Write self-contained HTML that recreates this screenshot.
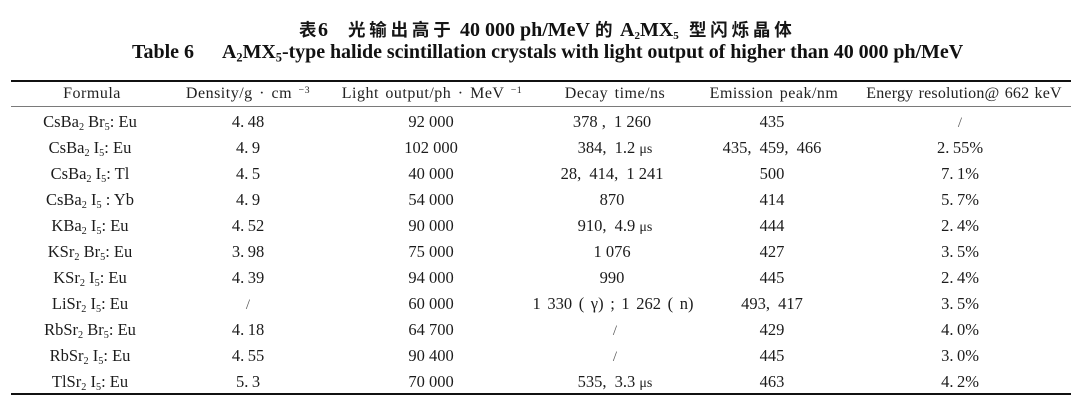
<!DOCTYPE html>
<html><head><meta charset="utf-8">
<style>
html,body{margin:0;padding:0;}
body{width:1080px;height:406px;background:#fff;position:relative;overflow:hidden;font-family:"Liberation Serif","Noto Serif CJK SC",serif;color:#1c1c1c;}
.a{position:absolute;white-space:nowrap;}
.t{position:absolute;white-space:nowrap;line-height:30px;height:30px;top:14.5px;}
.cjk{font-family:"Noto Sans CJK SC","WenQuanYi Zen Hei",sans-serif;font-size:17.5px;font-weight:bold;letter-spacing:3.8px;color:#151515;}
.lb{font-family:"Liberation Serif",serif;font-weight:bold;font-size:20px;color:#111;}
.et{position:absolute;white-space:nowrap;line-height:30px;height:30px;top:37px;font-family:"Liberation Serif",serif;font-weight:bold;font-size:20px;color:#111;}
sub{font-size:0.62em;vertical-align:-0.28em;line-height:0;}
.lb sub{font-size:0.55em;}
sup{font-size:0.62em;vertical-align:0.5em;line-height:0;}
.c{position:absolute;width:260px;margin-left:-130px;text-align:center;white-space:nowrap;font-size:16.5px;line-height:26px;height:26px;}
.h{position:absolute;width:300px;margin-left:-150px;text-align:center;white-space:nowrap;font-size:16px;line-height:26px;height:26px;top:81px;letter-spacing:0.5px;word-spacing:2px;color:#222;}
.p{margin-right:3.5px;}
.k{margin-right:4px;}
.sl{color:#555;font-size:15px;}
.mu{font-size:14px;}
.rule{position:absolute;left:11px;width:1060px;}
</style></head>
<body>
<!-- Chinese title -->
<span class="t cjk" style="left:299px;letter-spacing:0">表</span>
<span class="t lb" style="left:318px">6</span>
<span class="t cjk" style="left:348px">光输出高于</span>
<span class="t lb" style="left:460px">40 000 ph/MeV</span>
<span class="t cjk" style="left:595px;letter-spacing:0">的</span>
<span class="t lb" style="left:620px">A<sub>2</sub>MX<sub>5</sub></span>
<span class="t cjk" style="left:689px">型闪烁晶体</span>

<!-- English title -->
<span class="et" style="left:132px">Table 6</span>
<span class="et" style="left:222px;letter-spacing:-0.05px">A<sub>2</sub>MX<sub>5</sub>-type halide scintillation crystals with light output of higher than 40 000 ph/MeV</span>

<!-- rules -->
<div class="rule" style="top:80px;height:2px;background:#111;"></div>
<div class="rule" style="top:106px;height:1px;background:#7a7a7a;"></div>
<div class="rule" style="top:393px;height:2px;background:#111;"></div>

<!-- header -->
<div class="h" style="left:92px">Formula</div>
<div class="h" style="left:248px">Density/g · cm <sup>−3</sup></div>
<div class="h" style="left:432px">Light output/ph · MeV <sup>−1</sup></div>
<div class="h" style="left:615px">Decay time/ns</div>
<div class="h" style="left:774px">Emission peak/nm</div>
<div class="h" style="left:964px;letter-spacing:0.2px;word-spacing:1px">Energy resolution@ 662 keV</div>

<!-- row 1 -->
<div class="c" style="top:108.5px;left:90px">CsBa<sub>2</sub> Br<sub>5</sub>: Eu</div>
<div class="c" style="top:108.5px;left:248px">4<span class="p">.</span>48</div>
<div class="c" style="top:108.5px;left:431px">92 000</div>
<div class="c" style="top:108.5px;left:612px">378 <span class="k">,</span> 1 260</div>
<div class="c" style="top:108.5px;left:772px">435</div>
<div class="c" style="top:108.5px;left:960px"><span class="sl">/</span></div>
<!-- row 2 -->
<div class="c" style="top:134.5px;left:90px">CsBa<sub>2</sub> I<sub>5</sub>: Eu</div>
<div class="c" style="top:134.5px;left:248px">4<span class="p">.</span>9</div>
<div class="c" style="top:134.5px;left:431px">102 000</div>
<div class="c" style="top:134.5px;left:615px">384<span class="k">,</span> 1.2 <span class="mu">μs</span></div>
<div class="c" style="top:134.5px;left:772px">435<span class="k">,</span> 459<span class="k">,</span> 466</div>
<div class="c" style="top:134.5px;left:960px">2<span class="p">.</span>55%</div>
<!-- row 3 -->
<div class="c" style="top:160.5px;left:90px">CsBa<sub>2</sub> I<sub>5</sub>: Tl</div>
<div class="c" style="top:160.5px;left:248px">4<span class="p">.</span>5</div>
<div class="c" style="top:160.5px;left:431px">40 000</div>
<div class="c" style="top:160.5px;left:612px">28<span class="k">,</span> 414<span class="k">,</span> 1 241</div>
<div class="c" style="top:160.5px;left:772px">500</div>
<div class="c" style="top:160.5px;left:960px">7<span class="p">.</span>1%</div>
<!-- row 4 -->
<div class="c" style="top:186.5px;left:90px">CsBa<sub>2</sub> I<sub>5</sub> : Yb</div>
<div class="c" style="top:186.5px;left:248px">4<span class="p">.</span>9</div>
<div class="c" style="top:186.5px;left:431px">54 000</div>
<div class="c" style="top:186.5px;left:612px">870</div>
<div class="c" style="top:186.5px;left:772px">414</div>
<div class="c" style="top:186.5px;left:960px">5<span class="p">.</span>7%</div>
<!-- row 5 -->
<div class="c" style="top:212.5px;left:90px">KBa<sub>2</sub> I<sub>5</sub>: Eu</div>
<div class="c" style="top:212.5px;left:248px">4<span class="p">.</span>52</div>
<div class="c" style="top:212.5px;left:431px">90 000</div>
<div class="c" style="top:212.5px;left:615px">910<span class="k">,</span> 4.9 <span class="mu">μs</span></div>
<div class="c" style="top:212.5px;left:772px">444</div>
<div class="c" style="top:212.5px;left:960px">2<span class="p">.</span>4%</div>
<!-- row 6 -->
<div class="c" style="top:238.5px;left:90px">KSr<sub>2</sub> Br<sub>5</sub>: Eu</div>
<div class="c" style="top:238.5px;left:248px">3<span class="p">.</span>98</div>
<div class="c" style="top:238.5px;left:431px">75 000</div>
<div class="c" style="top:238.5px;left:612px">1 076</div>
<div class="c" style="top:238.5px;left:772px">427</div>
<div class="c" style="top:238.5px;left:960px">3<span class="p">.</span>5%</div>
<!-- row 7 -->
<div class="c" style="top:264.5px;left:90px">KSr<sub>2</sub> I<sub>5</sub>: Eu</div>
<div class="c" style="top:264.5px;left:248px">4<span class="p">.</span>39</div>
<div class="c" style="top:264.5px;left:431px">94 000</div>
<div class="c" style="top:264.5px;left:612px">990</div>
<div class="c" style="top:264.5px;left:772px">445</div>
<div class="c" style="top:264.5px;left:960px">2<span class="p">.</span>4%</div>
<!-- row 8 -->
<div class="c" style="top:290.5px;left:90px">LiSr<sub>2</sub> I<sub>5</sub>: Eu</div>
<div class="c" style="top:290.5px;left:248px"><span class="sl">/</span></div>
<div class="c" style="top:290.5px;left:431px">60 000</div>
<div class="c" style="top:290.5px;left:613px;word-spacing:2.5px">1 330 ( γ) ; 1 262 ( n)</div>
<div class="c" style="top:290.5px;left:772px">493<span class="k">,</span> 417</div>
<div class="c" style="top:290.5px;left:960px">3<span class="p">.</span>5%</div>
<!-- row 9 -->
<div class="c" style="top:316.5px;left:90px">RbSr<sub>2</sub> Br<sub>5</sub>: Eu</div>
<div class="c" style="top:316.5px;left:248px">4<span class="p">.</span>18</div>
<div class="c" style="top:316.5px;left:431px">64 700</div>
<div class="c" style="top:316.5px;left:615px"><span class="sl">/</span></div>
<div class="c" style="top:316.5px;left:772px">429</div>
<div class="c" style="top:316.5px;left:960px">4<span class="p">.</span>0%</div>
<!-- row 10 -->
<div class="c" style="top:342.5px;left:90px">RbSr<sub>2</sub> I<sub>5</sub>: Eu</div>
<div class="c" style="top:342.5px;left:248px">4<span class="p">.</span>55</div>
<div class="c" style="top:342.5px;left:431px">90 400</div>
<div class="c" style="top:342.5px;left:615px"><span class="sl">/</span></div>
<div class="c" style="top:342.5px;left:772px">445</div>
<div class="c" style="top:342.5px;left:960px">3<span class="p">.</span>0%</div>
<!-- row 11 -->
<div class="c" style="top:368.5px;left:90px">TlSr<sub>2</sub> I<sub>5</sub>: Eu</div>
<div class="c" style="top:368.5px;left:248px">5<span class="p">.</span>3</div>
<div class="c" style="top:368.5px;left:431px">70 000</div>
<div class="c" style="top:368.5px;left:615px">535<span class="k">,</span> 3.3 <span class="mu">μs</span></div>
<div class="c" style="top:368.5px;left:772px">463</div>
<div class="c" style="top:368.5px;left:960px">4<span class="p">.</span>2%</div>
</body></html>
